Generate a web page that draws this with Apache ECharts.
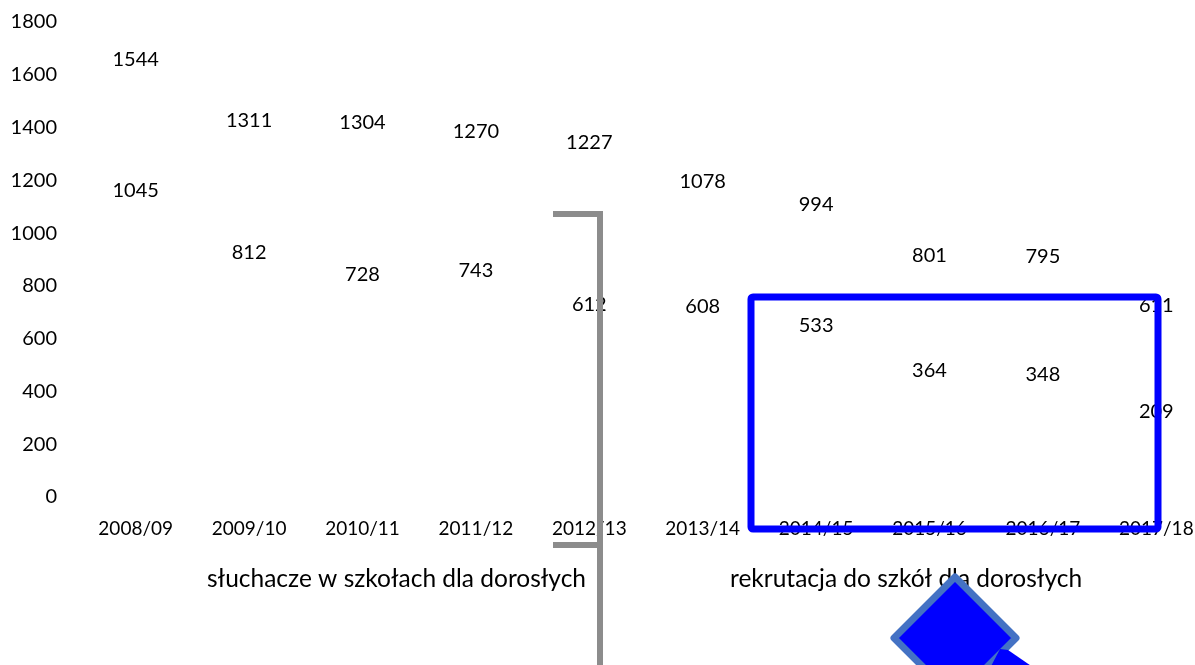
<!DOCTYPE html>
<html>
<head>
<meta charset="utf-8">
<script src="https://cdn.jsdelivr.net/npm/echarts@6/dist/echarts.min.js"></script>
<style>
  html, body { margin: 0; padding: 0; background: #fff; overflow: hidden; }
  /* the canvas is a little wider than the page so the last year ends at the border */
  #chart { width: 1220px; height: 665px; }
</style>
</head>
<body>
<div id="chart"></div>
<script>
// School years on the category axis
const years = ['2008/09', '2009/10', '2010/11', '2011/12', '2012/13', '2013/14', '2014/15', '2015/16', '2016/17', '2017/18'];
// Students enrolled in adult schools
const studentsName = 'słuchacze w szkołach dla dorosłych';
const students = [1544, 1311, 1304, 1270, 1227, 1078, 994, 801, 795, 611];
// Admissions to adult schools
const recruitName = 'rekrutacja do szkół dla dorosłych';
const recruits = [1045, 812, 728, 743, 612, 608, 533, 364, 348, 209];
// Value axis ticks
const yTicks = { min: 0, max: 1800, interval: 200 };

const FONT = 'Lato';
const chart = echarts.init(document.getElementById('chart'));

function labelSeries(name, data) {
  return {
    name: name,
    type: 'line',
    data: data,
    symbol: 'circle',
    symbolSize: 1,
    itemStyle: { color: 'transparent' },
    lineStyle: { opacity: 0 },
    label: {
      show: true,
      position: 'top',
      distance: 20,
      color: '#000',
      fontFamily: FONT,
      fontSize: 20
    },
    emphasis: { disabled: true },
    silent: true
  };
}

function legendAt(name, left) {
  return {
    data: [{ name: name, icon: 'none' }],
    left: left, top: 562,
    itemWidth: 0, itemHeight: 0, itemGap: 0,
    textStyle: { fontFamily: FONT, fontSize: 24.5, color: '#000', padding: 0 },
    selectedMode: false
  };
}

chart.setOption({
  animation: false,
  backgroundColor: '#fff',
  textStyle: { fontFamily: FONT },
  grid: { left: 79, width: 1134, top: 22, bottom: 168, containLabel: false },
  legend: [legendAt(studentsName, 197), legendAt(recruitName, 720)],
  xAxis: {
    type: 'category',
    data: years,
    boundaryGap: true,
    axisLine: { show: false },
    axisTick: { show: false },
    axisLabel: { margin: 22, color: '#000', fontFamily: FONT, fontSize: 19, interval: 0 }
  },
  yAxis: {
    type: 'value',
    min: yTicks.min, max: yTicks.max, interval: yTicks.interval,
    axisLine: { show: false },
    axisTick: { show: false },
    splitLine: { show: false },
    axisLabel: {
      margin: 22, color: '#000', fontFamily: FONT, fontSize: 20,
      formatter: function (v) { return String(v); }
    }
  },
  series: [labelSeries(studentsName, students), labelSeries(recruitName, recruits)],
  graphic: [
    // grey bracket
    {
      type: 'polyline', z: 100,
      shape: { points: [[553, 214], [600, 214], [600, 670]] },
      style: { stroke: '#8c8c8c', lineWidth: 6, fill: null }
    },
    {
      type: 'line', z: 100,
      shape: { x1: 553, y1: 545, x2: 600, y2: 545 },
      style: { stroke: '#8c8c8c', lineWidth: 6 }
    },
    // blue frame
    {
      type: 'rect', z: 100,
      shape: { x: 751, y: 297, width: 407, height: 232, r: 2 },
      style: { stroke: '#0000ff', lineWidth: 7, fill: null, lineJoin: 'round' }
    },
    // blue diamond marker with its tail
    {
      type: 'polygon', z: 100,
      shape: { points: [[955, 577], [1016, 638], [955, 699], [894, 638]] },
      style: { fill: '#0000ff', stroke: '#4472c4', lineWidth: 7, lineJoin: 'round' }
    },
    {
      type: 'polygon', z: 101,
      shape: { points: [[1000, 649], [1008, 650], [1040, 672], [988, 672]] },
      style: { fill: '#0000ff' }
    }
  ]
});
</script>
</body>
</html>
